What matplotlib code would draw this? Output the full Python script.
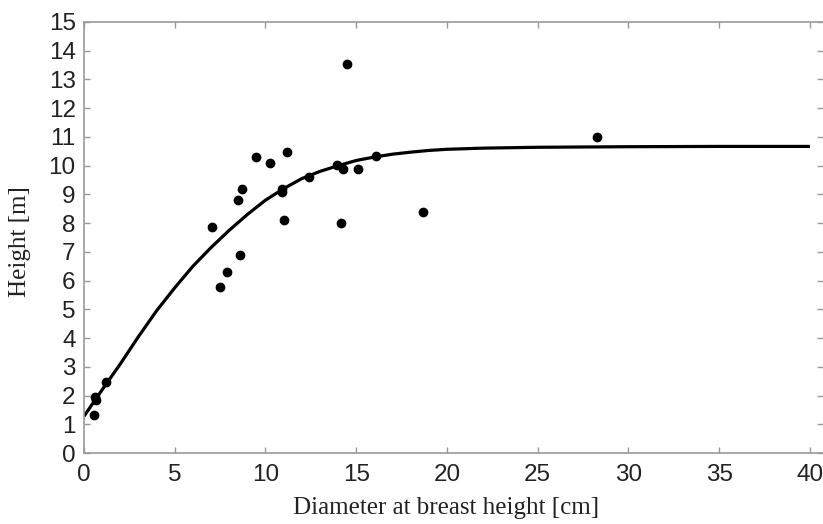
import matplotlib
matplotlib.use("Agg")
import matplotlib.pyplot as plt

# Observed data points (DBH [cm], height [m])
dbh = [0.57, 0.6, 0.65, 1.23, 7.07, 7.49, 7.9, 8.47, 8.6, 8.69, 9.48, 10.25,
       10.89, 10.89, 11.0, 11.18, 12.38, 13.96, 14.18, 14.27, 14.47, 15.1,
       16.07, 18.68, 28.25]
height = [1.32, 1.95, 1.85, 2.47, 7.88, 5.79, 6.3, 8.8, 6.89, 9.2, 10.31, 10.1,
          9.2, 9.1, 8.1, 10.49, 9.61, 10.02, 8.0, 9.89, 13.53, 9.9,
          10.33, 8.4, 11.01]

# Fitted curve
curve_d = [0, 1, 2, 3, 4, 5, 6, 7, 8, 9, 10, 11, 12, 13, 14, 15, 16, 17, 18,
           19, 20, 22, 25, 30, 35, 40]
curve_h = [1.28, 2.2, 3.1, 4.05, 4.95, 5.75, 6.5, 7.15, 7.75, 8.3, 8.8, 9.2,
           9.55, 9.8, 10.0, 10.18, 10.3, 10.4, 10.47, 10.53, 10.57, 10.61,
           10.64, 10.66, 10.67, 10.67]

x_ticks = [0, 5, 10, 15, 20, 25, 30, 35, 40]
y_ticks = list(range(0, 16))

fig = plt.figure(figsize=(8.23, 5.24), dpi=100)
ax = fig.add_axes([84 / 823, 71 / 524, 739 / 823, 431 / 524])

ax.plot(curve_d, curve_h, color="black", lw=2.3, solid_capstyle="butt")
ax.plot(dbh, height, "o", color="black", ms=6, mec="black")

ax.set_xlim(0, 40.72)
ax.set_ylim(0, 15)
ax.set_xticks(x_ticks)
ax.set_yticks(y_ticks)

spine_col = "#999999"
for s in ["left", "bottom", "top"]:
    ax.spines[s].set_color(spine_col)
    ax.spines[s].set_linewidth(1.2)
ax.spines["right"].set_visible(False)

ax.tick_params(direction="in", length=4, width=1, color=spine_col,
               top=True, right=True, labelsize=17.5, labelcolor="#222222")
ax.tick_params(axis="x", pad=8)
ax.tick_params(axis="y", pad=6)
for lab in ax.get_xticklabels() + ax.get_yticklabels():
    lab.set_fontfamily("Liberation Sans")

xl = ax.set_xlabel("Diameter at breast height [cm]", fontfamily="Liberation Serif",
                   fontsize=18, color="#222222")
xl.set_verticalalignment("center")
ax.xaxis.set_label_coords(0.49, -0.128)
yl = ax.set_ylabel("Height [m]", fontfamily="Liberation Serif",
                   fontsize=18, color="#222222")
yl.set_verticalalignment("center")
yl.set_horizontalalignment("center")
ax.yaxis.set_label_coords(-0.086, 0.49)

fig.savefig("out.png", dpi=100)
